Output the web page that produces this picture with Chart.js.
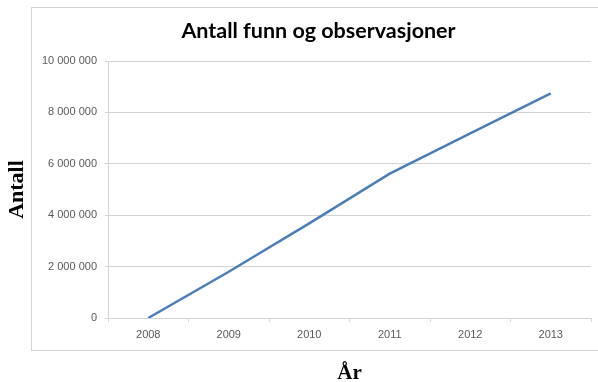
<!DOCTYPE html>
<html>
<head>
<meta charset="utf-8">
<script src="https://cdn.jsdelivr.net/npm/chart.js@4/dist/chart.umd.min.js"></script>
<style>
  html, body { margin: 0; padding: 0; width: 598px; height: 382px; overflow: hidden; background: #ffffff; }
  #frame { position: absolute; left: 31px; top: 7px; width: 600px; height: 344px; border: 1px solid #d4d4d4; box-sizing: border-box; }
  #c { position: absolute; left: 0; top: 0; }
</style>
</head>
<body>
<div id="frame"></div>
<canvas id="c" width="598" height="382"></canvas>
<script>
const chartTitle = 'Antall funn og observasjoner';
const xTitle = 'År';
const yTitle = 'Antall';
const years = ['2008', '2009', '2010', '2011', '2012', '2013'];
const antall = [0, 1800000, 3680000, 5620000, 7180000, 8740000];
const yMin = 0;
const yMax = 10000000;
const yStep = 2000000;

function fmt(v) {
  return String(v).replace(/\B(?=(\d{3})+(?!\d))/g, ' ');
}

const tickColor = '#595959';
const gridColor = '#d4d4d4';

new Chart(document.getElementById('c'), {
  type: 'line',
  data: {
    labels: years,
    datasets: [{
      label: yTitle,
      data: antall,
      borderColor: '#4a7ebb',
      borderWidth: 2.5,
      pointRadius: 0,
      pointHoverRadius: 0,
      tension: 0,
      fill: false
    }]
  },
  options: {
    responsive: false,
    animation: false,
    layout: { padding: { left: 39, right: 0, top: 0, bottom: 0 } },
    plugins: {
      legend: { display: false },
      tooltip: { enabled: false },
      title: {
        display: true,
        text: chartTitle,
        color: '#000000',
        font: { family: 'Lato', size: 21.5, weight: 'bold', lineHeight: 1.2 },
        padding: { top: 18, bottom: 17.2 }
      }
    },
    scales: {
      x: {
        offset: true,
        grid: {
          offset: true,
          drawOnChartArea: false,
          drawTicks: true,
          tickLength: 4,
          color: gridColor
        },
        border: { color: gridColor, width: 1 },
        ticks: {
          color: tickColor,
          padding: 6,
          maxRotation: 0,
          font: { family: 'Liberation Sans', size: 11, lineHeight: 1.2 }
        },
        title: {
          display: true,
          text: xTitle,
          color: '#000000',
          font: { family: 'Liberation Serif', size: 21, weight: 'bold', lineHeight: 1 },
          padding: { top: 0, bottom: -2.5 }
        },
        afterFit: (s) => { s.height = 64; }
      },
      y: {
        min: yMin,
        max: yMax,
        grid: {
          color: gridColor,
          drawTicks: true,
          tickLength: 3
        },
        border: { color: gridColor, width: 1 },
        ticks: {
          stepSize: yStep,
          color: tickColor,
          padding: 8,
          font: { family: 'Liberation Sans', size: 11, lineHeight: 1.2 },
          callback: (v) => fmt(v)
        },
        title: {
          display: true,
          text: yTitle,
          color: '#000000',
          font: { family: 'Liberation Serif', size: 22, weight: 'bold', lineHeight: 1 },
          padding: { top: -33, bottom: 0 }
        },
        afterFit: (s) => { s.width = 69; }
      },
      yRight: {
        position: 'right',
        min: yMin,
        max: yMax,
        grid: { drawOnChartArea: false, drawTicks: false },
        border: { display: false },
        ticks: { display: false },
        afterFit: (s) => { s.width = 7; }
      }
    }
  }
});
</script>
</body>
</html>
